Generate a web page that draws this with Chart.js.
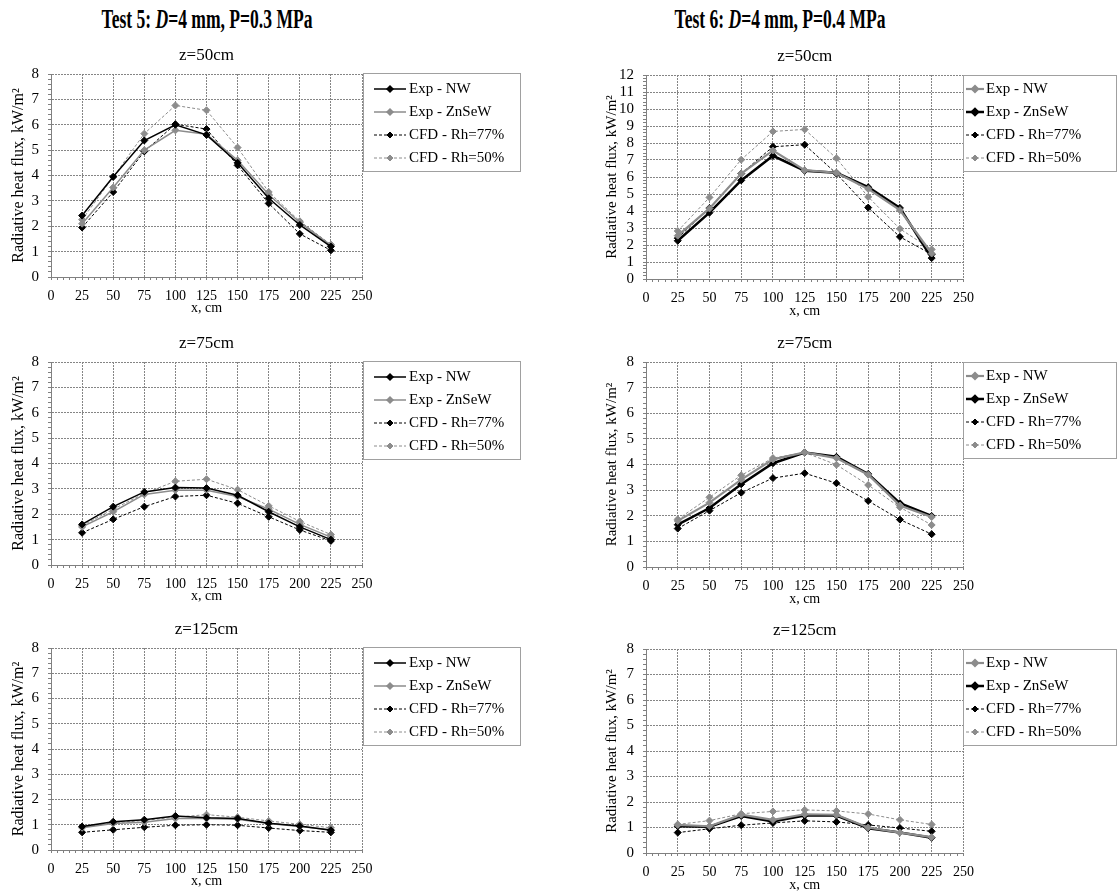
<!DOCTYPE html>
<html>
<head>
<meta charset="utf-8">
<script src="https://cdn.jsdelivr.net/npm/chart.js@4.4.0/dist/chart.umd.min.js"></script>
<style>
  body { margin: 0; background: #fff; width: 1119px; height: 896px; position: relative; overflow: hidden; font-family: "Liberation Serif", serif; }
  .head { position: absolute; top: 4px; width: 420px; text-align: center; font-weight: bold; font-size: 27px; line-height: 30px; transform: scaleX(0.65); }
  canvas { position: absolute; }
</style>
</head>
<body>
<div class="head" style="left:-3px">Test 5: <i>D</i>=4 mm, P=0.3 MPa</div>
<div class="head" style="left:570px">Test 6: <i>D</i>=4 mm, P=0.4 MPa</div>
<canvas id="l1"></canvas>
<canvas id="l2"></canvas>
<canvas id="l3"></canvas>
<canvas id="r1"></canvas>
<canvas id="r2"></canvas>
<canvas id="r3"></canvas>
<script>
// x positions along the tunnel, cm
const xCm = [25, 50, 75, 100, 125, 150, 175, 200, 225];
const seriesLabels = ['Exp - NW', 'Exp - ZnSeW', 'CFD - Rh=77%', 'CFD - Rh=50%'];

// Test 5: D=4 mm, P=0.3 MPa
const t5z50NW    = [2.42, 3.95, 5.38, 6.00, 5.60, 4.50, 3.10, 2.05, 1.20];
const t5z50ZnSeW = [2.10, 3.53, 5.00, 5.78, 5.63, 4.60, 3.25, 2.15, 1.25];
const t5z50Rh77  = [1.95, 3.35, 4.95, 6.02, 5.83, 4.40, 2.90, 1.70, 1.05];
const t5z50Rh50  = [2.26, 3.94, 5.65, 6.76, 6.57, 5.10, 3.35, 2.20, 1.28];

const t5z75NW    = [1.60, 2.30, 2.88, 3.05, 3.03, 2.75, 2.10, 1.50, 1.00];
const t5z75ZnSeW = [1.50, 2.10, 2.78, 2.95, 2.95, 2.70, 2.20, 1.60, 1.10];
const t5z75Rh77  = [1.27, 1.80, 2.30, 2.70, 2.75, 2.43, 1.90, 1.38, 0.95];
const t5z75Rh50  = [1.55, 2.20, 2.82, 3.30, 3.38, 2.97, 2.33, 1.72, 1.20];

const t5z125NW    = [0.93, 1.12, 1.20, 1.35, 1.28, 1.25, 1.06, 0.95, 0.78];
const t5z125ZnSeW = [0.88, 1.05, 1.10, 1.25, 1.25, 1.22, 1.05, 0.93, 0.80];
const t5z125Rh77  = [0.70, 0.80, 0.90, 0.98, 1.00, 0.98, 0.87, 0.77, 0.70];
const t5z125Rh50  = [0.90, 1.07, 1.17, 1.30, 1.40, 1.30, 1.15, 1.02, 0.88];

// Test 6: D=4 mm, P=0.4 MPa
const t6z50NW    = [2.55, 4.15, 6.20, 7.56, 6.40, 6.25, 5.30, 4.05, 1.50];
const t6z50ZnSeW = [2.25, 3.90, 5.80, 7.25, 6.37, 6.25, 5.40, 4.18, 1.23];
const t6z50Rh77  = [2.40, 4.18, 6.20, 7.78, 7.90, 6.20, 4.20, 2.48, 1.45];
const t6z50Rh50  = [2.82, 4.80, 7.02, 8.68, 8.80, 7.10, 4.83, 2.95, 1.74];

const t6z75NW    = [1.80, 2.51, 3.41, 4.20, 4.47, 4.25, 3.60, 2.40, 1.95];
const t6z75ZnSeW = [1.65, 2.30, 3.23, 4.05, 4.47, 4.30, 3.63, 2.49, 1.99];
const t6z75Rh77  = [1.50, 2.20, 2.90, 3.47, 3.66, 3.27, 2.58, 1.85, 1.28];
const t6z75Rh50  = [1.86, 2.72, 3.58, 4.25, 4.47, 3.99, 3.20, 2.33, 1.64];

const t6z125NW    = [1.10, 1.05, 1.50, 1.30, 1.52, 1.50, 1.00, 0.80, 0.62];
const t6z125ZnSeW = [1.05, 1.03, 1.45, 1.24, 1.47, 1.47, 0.97, 0.80, 0.60];
const t6z125Rh77  = [0.80, 0.95, 1.09, 1.18, 1.26, 1.22, 1.10, 0.98, 0.85];
const t6z125Rh50  = [1.12, 1.27, 1.54, 1.63, 1.69, 1.65, 1.53, 1.30, 1.12];

const GRAY = '#8c8c8c';
const AXIS = '#808080';
const GRID = '#858585';
const FONT = '"Liberation Serif", "Times New Roman", serif';

function isWhole(v, step) {
  const r = v / step;
  return Math.abs(r - Math.round(r)) < 1e-6;
}

// draws the boxed legend on the right side of the plot
const boxLegend = {
  id: 'boxLegend',
  afterDraw(chart, args, o) {
    const ctx = chart.ctx;
    const a = chart.chartArea;
    const x0 = Math.round(a.right + o.dx), y0 = Math.round(a.top + o.dy);
    ctx.save();
    ctx.strokeStyle = '#a0a0a0';
    ctx.lineWidth = 1;
    ctx.strokeRect(x0 + 0.5, y0 + 0.5, o.w, o.h);
    chart.data.datasets.forEach((ds, i) => {
      const y = y0 + o.first + i * o.step;
      ctx.strokeStyle = ds.borderColor;
      ctx.lineWidth = ds.borderWidth;
      ctx.setLineDash(ds.borderDash || []);
      ctx.beginPath();
      ctx.moveTo(x0 + o.l1, y);
      ctx.lineTo(x0 + o.l2, y);
      ctx.stroke();
      ctx.setLineDash([]);
      Chart.helpers.drawPoint(ctx, { pointStyle: 'rectRot', radius: 3, borderWidth: 1, rotation: 0 }, x0 + (o.l1 + o.l2) / 2, y);
      ctx.fillStyle = ds.pointBackgroundColor;
      ctx.fill();
      ctx.fillStyle = '#000';
      ctx.font = '15px ' + FONT;
      ctx.textBaseline = 'middle';
      ctx.textAlign = 'left';
      ctx.fillText(ds.label, x0 + o.tx, y);
    });
    ctx.restore();
  }
};

function line(label, data, color, width, dashed) {
  return {
    label: label,
    data: xCm.map((x, i) => ({ x: x, y: data[i] })),
    borderColor: color,
    backgroundColor: color,
    pointBackgroundColor: color,
    pointBorderColor: color,
    borderWidth: width,
    borderDash: dashed ? [3, 2] : [],
    pointStyle: 'rectRot',
    pointRadius: 3.5,
    pointBorderWidth: 1,
    tension: 0
  };
}

function makePanel(id, g, title, yMax, series) {
  const cv = document.getElementById(id);
  const top = g.chartTop - 34;
  cv.width = g.W;
  cv.height = g.chartBottom + g.xHeight - top;
  cv.style.left = g.left + 'px';
  cv.style.top = top + 'px';

  new Chart(cv.getContext('2d'), {
    type: 'line',
    data: { datasets: series },
    options: {
      responsive: false,
      animation: false,
      layout: { padding: { left: 0, right: g.padRight, top: 0, bottom: 0 } },
      plugins: {
        legend: { display: false },
        tooltip: { enabled: false },
        title: {
          display: true,
          text: title,
          fullSize: false,
          color: '#000',
          font: { family: FONT, size: 17, weight: 'normal' },
          padding: { top: 5.8, bottom: 7.8 }
        },
        boxLegend: g.legend
      },
      scales: {
        x: {
          type: 'linear',
          min: 0,
          max: 250,
          afterFit: (s) => { s.height = g.xHeight; },
          ticks: {
            stepSize: 5,
            autoSkip: false,
            maxRotation: 0,
            minRotation: 0,
            padding: 7.5,
            color: '#000',
            font: { family: FONT, size: 14 },
            callback: (v) => isWhole(v, 25) ? String(Math.round(v)) : ''
          },
          grid: {
            color: (c) => isWhole(c.tick.value, 25) ? GRID : 'rgba(0,0,0,0)',
            tickColor: AXIS,
            tickLength: 3,
            lineWidth: 1
          },
          border: { display: true, color: AXIS, dash: [2, 1] },
          title: {
            display: true,
            text: 'x, cm',
            color: '#000',
            font: { family: FONT, size: 14 },
            padding: { top: 0, bottom: g.xTitlePad }
          }
        },
        y: {
          min: 0,
          max: yMax,
          afterFit: (s) => { s.width = g.yWidth; },
          ticks: {
            stepSize: 0.2,
            autoSkip: false,
            padding: 9,
            color: '#000',
            font: { family: FONT, size: 15 },
            callback: (v) => isWhole(v, 1) ? String(Math.round(v)) : ''
          },
          grid: {
            color: (c) => isWhole(c.tick.value, 1) ? GRID : 'rgba(0,0,0,0)',
            tickColor: AXIS,
            tickLength: 3,
            lineWidth: 1
          },
          border: { display: true, color: AXIS, dash: [2, 1] },
          title: {
            display: true,
            text: 'Radiative heat flux, kW/m²',
            color: '#000',
            font: { family: FONT, size: g.yTitleSize },
            padding: { top: g.yTitlePad, bottom: 0 }
          }
        }
      }
    },
    plugins: [boxLegend]
  });
}

const leftLegend = { dx: 1, dy: -1, w: 157, h: 98, first: 16, step: 23, l1: 11, l2: 43, tx: 46 };
const rightLegend = { dx: 0, dy: 0, w: 153, h: 96, first: 14, step: 23, l1: 3, l2: 21, tx: 23 };

function leftGeom(top, bottom) {
  return { left: 0, W: 540, yWidth: 51, padRight: 178, chartTop: top, chartBottom: bottom,
           xHeight: 40, xTitlePad: 0.6, yTitleSize: 16, yTitlePad: 9.4, legend: leftLegend };
}
function rightGeom(top, bottom) {
  return { left: 590, W: 529, yWidth: 56, padRight: 155.6, chartTop: top, chartBottom: bottom,
           xHeight: 42, xTitlePad: 0.9, yTitleSize: 15, yTitlePad: 12.7, legend: rightLegend };
}

// Test 5 column: NW black, ZnSeW gray
function test5Series(nw, zn, r77, r50) {
  return [
    line(seriesLabels[0], nw, '#000', 1.5, false),
    line(seriesLabels[1], zn, GRAY, 1.5, false),
    line(seriesLabels[2], r77, '#000', 1, true),
    line(seriesLabels[3], r50, GRAY, 1, true)
  ];
}
// Test 6 column: NW gray, ZnSeW thick black
function test6Series(nw, zn, r77, r50) {
  return [
    line(seriesLabels[0], nw, GRAY, 2.2, false),
    line(seriesLabels[1], zn, '#000', 2.5, false),
    line(seriesLabels[2], r77, '#000', 1, true),
    line(seriesLabels[3], r50, GRAY, 1, true)
  ];
}

makePanel('l1', leftGeom(74, 277), 'z=50cm', 8, test5Series(t5z50NW, t5z50ZnSeW, t5z50Rh77, t5z50Rh50));
makePanel('l2', leftGeom(362, 565), 'z=75cm', 8, test5Series(t5z75NW, t5z75ZnSeW, t5z75Rh77, t5z75Rh50));
makePanel('l3', leftGeom(648, 850), 'z=125cm', 8, test5Series(t5z125NW, t5z125ZnSeW, t5z125Rh77, t5z125Rh50));
makePanel('r1', rightGeom(75, 279), 'z=50cm', 12, test6Series(t6z50NW, t6z50ZnSeW, t6z50Rh77, t6z50Rh50));
makePanel('r2', rightGeom(362, 567), 'z=75cm', 8, test6Series(t6z75NW, t6z75ZnSeW, t6z75Rh77, t6z75Rh50));
makePanel('r3', rightGeom(649, 853), 'z=125cm', 8, test6Series(t6z125NW, t6z125ZnSeW, t6z125Rh77, t6z125Rh50));
</script>
</body>
</html>
